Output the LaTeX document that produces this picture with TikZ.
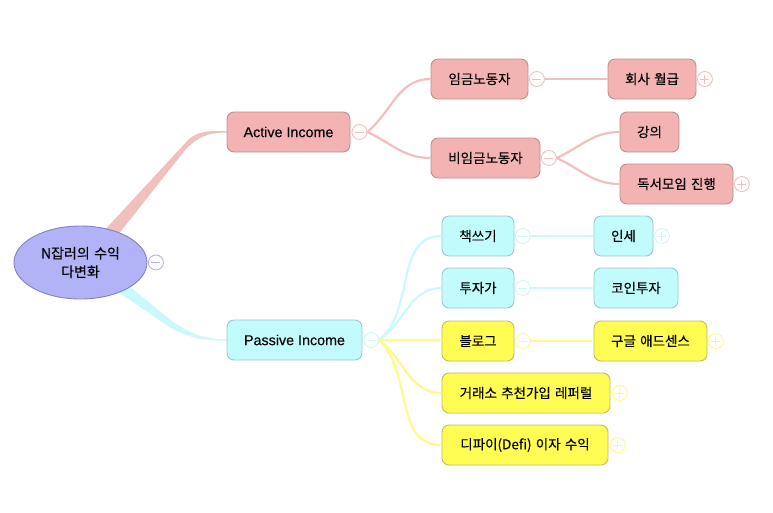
\documentclass[tikz,border=0pt]{standalone}
\usepackage{fontspec}
\setmainfont[FakeBold=0.12]{Liberation Sans}
\newfontfamily\kr[FakeBold=0.18,WordSpace=1.4]{Noto Sans CJK KR}
\usetikzlibrary{positioning,backgrounds,shapes.geometric}

\definecolor{pinkfill}{HTML}{F4B3B3}
\definecolor{pinkedge}{HTML}{BC8E8E}
\definecolor{pinkline}{HTML}{F2BFBF}
\definecolor{aquafill}{HTML}{C2FBFC}
\definecolor{aquaedge}{HTML}{9CC6CB}
\definecolor{aqualine}{HTML}{CBF9FB}
\definecolor{goldfill}{HTML}{FFFC54}
\definecolor{goldedge}{HTML}{C2BC62}
\definecolor{goldline}{HTML}{FFF98A}
\definecolor{rootfill}{HTML}{B2B3F6}
\definecolor{rootedge}{HTML}{8282BC}

\begin{document}
\begin{tikzpicture}[x=1pt,y=1pt,on grid,thick,
		main node/.style={rectangle,rounded corners=7pt,line width=0.9pt,minimum height=40pt,inner sep=0pt,
			text=black,font=\kr\fontsize{13.5}{16}\selectfont},
		pink node/.style={main node,fill=pinkfill,draw=pinkedge},
		aqua node/.style={main node,fill=aquafill,draw=aquaedge},
		gold node/.style={main node,fill=goldfill,draw=goldedge},
		btn/.style={circle,fill=white,draw=#1,line width=0.9pt,minimum size=15pt,inner sep=0pt},
		btn minus/.style={btn=#1,path picture={\draw[#1,line width=0.9pt] ([xshift=3pt]path picture bounding box.west) -- ([xshift=-3pt]path picture bounding box.east);}},
		btn plus/.style={btn=#1,path picture={\draw[#1,line width=0.9pt] ([xshift=3pt]path picture bounding box.west) -- ([xshift=-3pt]path picture bounding box.east) ([yshift=-3pt]path picture bounding box.north) -- ([yshift=3pt]path picture bounding box.south);}},
		pink link/.style={draw=pinkline,line width=2.2pt},
		aqua link/.style={draw=aqualine,line width=2.2pt},
		gold link/.style={draw=goldline,line width=2.2pt}]

		\useasboundingbox (0,0) rectangle (773,-512);

		\node[ellipse,fill=rootfill,draw=rootedge,line width=0.9pt,minimum width=133pt,minimum height=73pt,inner sep=0pt,
			align=center,text=black,font=\kr\fontsize{14}{19}\selectfont] (root) at (80.5,-262.5) {N잡러의 수익\\[-0.5pt]다변화};

		% first level
		\node[pink node,minimum width=123pt,font=\normalfont\fontsize{14.3}{16}\selectfont] (active) [above right=130.5pt and 208pt of root] {Active Income};
		\node[aqua node,minimum width=135pt,font=\normalfont\fontsize{14.3}{16}\selectfont] (passive) [below right=77.5pt and 214pt of root] {Passive Income};

		% active side
		\node[pink node,minimum width=97pt] (wage) [above right=53pt and 191pt of active] {임금노동자};
		\node[pink node,minimum width=88pt] (salary) [right=172.5pt of wage] {회사 월급};
		\node[pink node,minimum width=109pt] (nonwage) [below right=26pt and 197pt of active] {비임금노동자};
		\node[pink node,minimum width=59pt] (lecture) [above right=26pt and 164pt of nonwage] {강의};
		\node[pink node,minimum width=113pt] (club) [below right=26pt and 191pt of nonwage] {독서모임 진행};

		% passive side
		\node[aqua node,minimum width=72pt] (book) [above right=104pt and 183.5pt of passive] {책쓰기};
		\node[aqua node,minimum width=59pt] (royalty) [right=145.5pt of book] {인세};
		\node[aqua node,minimum width=72pt] (invest) [above right=52pt and 183.5pt of passive] {투자가};
		\node[aqua node,minimum width=84pt] (coin) [right=158pt of invest] {코인투자};
		\node[gold node,minimum width=72pt] (blog) [below right=1pt and 183.5pt of passive] {블로그};
		\node[gold node,minimum width=113pt] (adsense) [right=172.5pt of blog] {구글 애드센스};
		\node[gold node,minimum width=168pt] (referral) [below right=53pt and 231.5pt of passive] {거래소 추천가입 레퍼럴};
		\node[gold node,minimum width=166pt] (defi) [below right=105pt and 230.5pt of passive] {디파이(Defi) 이자 수익};

		% collapse buttons
		\node[btn minus=rootfill] (rootbtn) [right=0.5pt of root.east] {};
		\node[btn minus=pinkline] (activebtn) [right=1pt of active.east] {};
		\node[btn minus=pinkline] (wagebtn) [right=0.5pt of wage.east] {};
		\node[btn plus=pinkline] (salarybtn) [right=0.5pt of salary.east] {};
		\node[btn minus=pinkline] (nonwagebtn) [right=0.5pt of nonwage.east] {};
		\node[btn plus=pinkline] (clubbtn) [right=0.5pt of club.east] {};
		\node[btn minus=aqualine] (passivebtn) [right=1pt of passive.east] {};
		\node[btn minus=aqualine] (bookbtn) [right=0.5pt of book.east] {};
		\node[btn plus=aqualine] (royaltybtn) [right=0.5pt of royalty.east] {};
		\node[btn minus=aqualine] (investbtn) [right=0.5pt of invest.east] {};
		\node[btn minus=goldline] (blogbtn) [right=0.5pt of blog.east] {};
		\node[btn plus=goldline] (adsensebtn) [right=0.5pt of adsense.east] {};
		\node[btn plus=goldline] (referralbtn) [right=1.5pt of referral.east] {};
		\node[btn plus=goldline] (defibtn) [right=1.5pt of defi.east] {};

		\begin{pgfonlayer}{background}
		% tapered main branches
		\filldraw[pinkline,line width=1.4pt,line join=round] (root.52) -- (189,-140) .. controls (197,-133) and (206,-131) .. (active.west)
			.. controls (212,-131.5) and (200,-134) .. (185,-149) -- (root.38) -- cycle;
		\filldraw[aqualine,line width=1.4pt,line join=round] (root.-27) -- (172,-322) .. controls (190,-334) and (203,-340) .. (passive.west)
			.. controls (203,-340) and (188,-337) .. (169,-326) -- (root.-37) -- cycle;
		\end{pgfonlayer}

		\path[pink link]
		(activebtn.east) edge [out=40,in=180] (wage.west)
		(activebtn.east) edge [out=-25,in=180] (nonwage.west)
		(wagebtn.east) edge (salary.west)
		(nonwagebtn.east) edge [out=25,in=180] (lecture.west)
		(nonwagebtn.east) edge [out=-25,in=180] (club.west);

		\path[aqua link]
		(passivebtn.east) edge [out=40,in=180] (book.west)
		(passivebtn.east) edge [out=35,in=180] (invest.west)
		(bookbtn.east) edge (royalty.west)
		(investbtn.east) edge (coin.west);

		\path[gold link]
		(passivebtn.east) edge (blog.west |- passivebtn.east)
		(passivebtn.east) edge [out=-38,in=180] (referral.west)
		(passivebtn.east) edge [out=-45,in=180] (defi.west)
		(blogbtn.east) edge (adsense.west);
	\end{tikzpicture}
\end{document}
